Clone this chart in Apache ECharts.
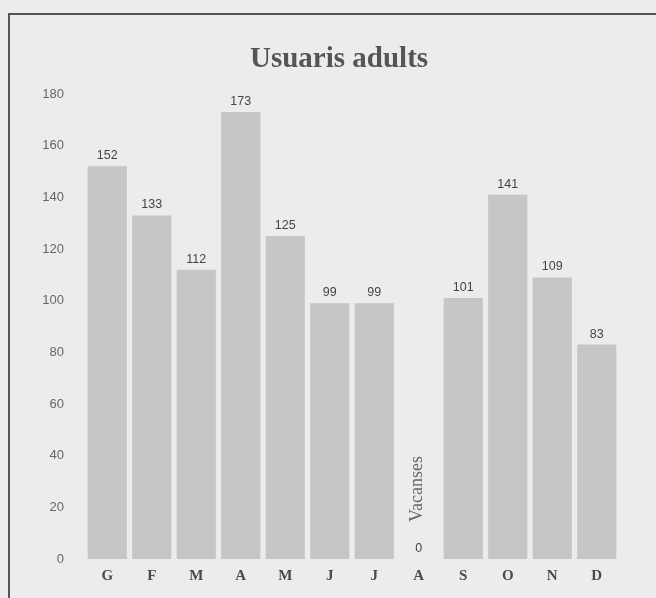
<!DOCTYPE html>
<html>
<head>
<meta charset="utf-8">
<script src="https://cdn.jsdelivr.net/npm/echarts@6/dist/echarts.min.js"></script>
<style>
html,body{margin:0;padding:0;background:#ececec;}
#frame{position:absolute;left:8px;top:13px;right:0;bottom:0;border-left:2px solid #555;border-top:2px solid #555;}
#chart{position:absolute;left:0;top:0;width:656px;height:598px;}
</style>
</head>
<body>
<div id="frame"></div>
<div id="chart"></div>
<script>
const titleText = 'Usuaris adults';
const months = ['G','F','M','A','M','J','J','A','S','O','N','D'];
const values = [152,133,112,173,125,99,99,0,101,141,109,83];
const yTicks = [0,20,40,60,80,100,120,140,160,180];
const holidayIndex = 7;
const holidayNote = 'Vacanses';

const chart = echarts.init(document.getElementById('chart'), null, {renderer:'canvas'});
chart.setOption({
  backgroundColor: 'transparent',
  animation: false,
  title: {
    text: titleText, left: 245, top: 40,
    textStyle: {fontFamily: 'Liberation Serif', fontWeight: 'bold', fontSize: 29, color: '#555'}
  },
  grid: {left: 85, right: 37, top: 94, bottom: 39},
  xAxis: {
    type: 'category', data: months.map((m,i)=>({value: m + '\u200b'.repeat(i)})),
    axisLine: {show: false}, axisTick: {show: false},
    axisLabel: {
      formatter: v => v.replace(/\u200b/g,''),
      fontFamily: 'Liberation Serif', fontWeight: 'bold', fontSize: 15, color: '#4a4a4a', margin: 10
    }
  },
  yAxis: {
    type: 'value', min: yTicks[0], max: yTicks[yTicks.length-1], interval: 20,
    axisLine: {show: false}, axisTick: {show: false}, splitLine: {show: false},
    axisLabel: {fontFamily: 'Liberation Sans', fontSize: 13, color: '#666', margin: 21}
  },
  series: [{
    type: 'bar',
    data: values,
    barCategoryGap: '12%',
    itemStyle: {color: '#c6c6c6'},
    label: {show: true, position: 'top', distance: 4, fontFamily: 'Liberation Sans', fontSize: 12.5, color: '#444'},
    markPoint: {
      symbol: 'circle', symbolSize: 1,
      itemStyle: {color: 'rgba(0,0,0,0)'},
      data: [{
        coord: [holidayIndex, values[holidayIndex]],
        label: {
          show: true, position: 'inside', formatter: holidayNote, rotate: 90,
          offset: [70, -1],
          fontFamily: 'Liberation Serif', fontSize: 18, color: '#666'
        }
      }]
    }
  }]
});
</script>
</body>
</html>
